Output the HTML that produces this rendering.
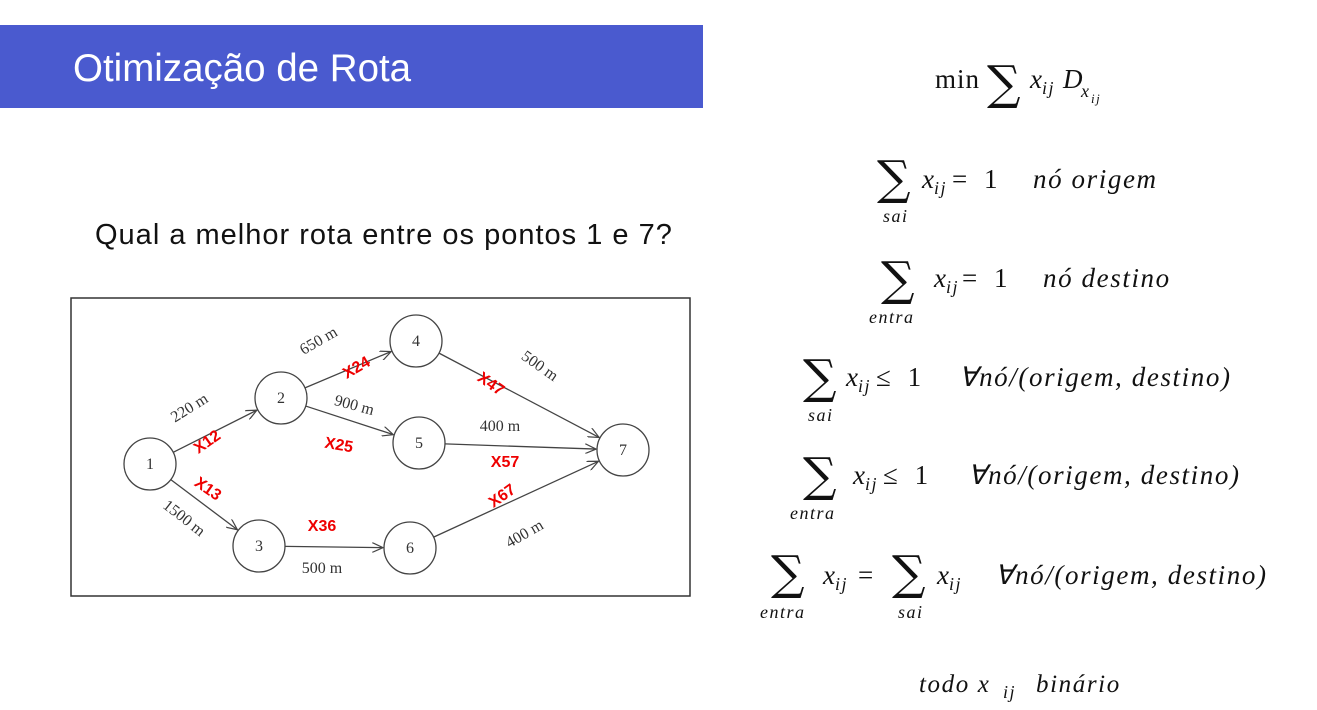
<!DOCTYPE html>
<html><head><meta charset="utf-8"><style>
body{margin:0;width:1317px;height:710px;background:#fff;overflow:hidden}
svg{display:block}
.m{font-family:"Liberation Serif",serif;font-style:italic;font-size:27px;letter-spacing:1.6px;fill:#111}
.s{font-family:"Liberation Serif",serif;font-style:italic;font-size:18px;letter-spacing:1.5px;fill:#111}
.u{font-family:"Liberation Serif",serif;font-size:27px;letter-spacing:5px;fill:#111}
.sig{font-family:"DejaVu Serif",serif;font-size:47px;fill:#111}
.g{font-family:"Liberation Serif",serif;font-size:16px;fill:#333}
.r{font-family:"Liberation Sans",sans-serif;font-weight:bold;font-size:16px;fill:#e00}
</style></head><body>
<svg width="1317" height="710">
<defs><marker id="ar" markerWidth="12" markerHeight="10" refX="11" refY="5" orient="auto" markerUnits="userSpaceOnUse"><path d="M0,0 L11,5 L0,10" fill="none" stroke="#444" stroke-width="1.2"/></marker></defs>
<rect x="0" y="25" width="703" height="83" fill="#4a5acf"/>
<text x="73" y="81" font-family="Liberation Sans,sans-serif" font-size="38.5" fill="#fff">Otimização de Rota</text>
<text x="95" y="244" font-family="Liberation Sans,sans-serif" font-size="29" letter-spacing="1" fill="#111">Qual a melhor rota entre os pontos 1 e 7?</text>
<rect x="71" y="298" width="619" height="298" fill="#fff" stroke="#333" stroke-width="1.5"/>
<g id="graph"></g>

<g>
<text x="935" y="88" class="u" style="letter-spacing:1px">min</text><text x="987" y="99" class="sig">∑</text>
<text x="1030" y="88" class="m">x</text><text x="1042" y="94" class="s">ij</text>
<text x="1063" y="88" class="m">D</text><text x="1081" y="97" class="s">x</text><text x="1091" y="103" class="s" style="font-size:13px">ij</text>
</g>
<g>
<text x="877" y="194" class="sig">∑</text><text x="883" y="222" class="s">sai</text>
<text x="922" y="188" class="m">x</text><text x="934" y="194" class="s">ij</text>
<text x="952" y="188" class="u">= 1</text><text x="1033" y="188" class="m">nó origem</text>
</g>
<g>
<text x="881" y="295" class="sig">∑</text><text x="869" y="323" class="s">entra</text>
<text x="934" y="287" class="m">x</text><text x="946" y="293" class="s">ij</text>
<text x="962" y="287" class="u">= 1</text><text x="1043" y="287" class="m">nó destino</text>
</g>
<g>
<text x="803" y="393" class="sig">∑</text><text x="808" y="421" class="s">sai</text>
<text x="846" y="386" class="m">x</text><text x="858" y="392" class="s">ij</text>
<text x="876" y="386" class="u">≤ 1</text><text x="959" y="386" class="m">∀nó/(origem, destino)</text>
</g>
<g>
<text x="803" y="491" class="sig">∑</text><text x="790" y="519" class="s">entra</text>
<text x="853" y="484" class="m">x</text><text x="865" y="490" class="s">ij</text>
<text x="883" y="484" class="u">≤ 1</text><text x="968" y="484" class="m">∀nó/(origem, destino)</text>
</g>
<g>
<text x="771" y="589" class="sig">∑</text><text x="760" y="618" class="s">entra</text>
<text x="823" y="584" class="m">x</text><text x="835" y="590" class="s">ij</text>
<text x="858" y="584" class="u">=</text>
<text x="892" y="589" class="sig">∑</text><text x="898" y="618" class="s">sai</text>
<text x="937" y="584" class="m">x</text><text x="949" y="590" class="s">ij</text>
<text x="995" y="584" class="m">∀nó/(origem, destino)</text>
</g>
<g>
<text x="919" y="692" class="m" style="font-size:25px">todo  x</text><text x="1003" y="698" class="s">ij</text><text x="1036" y="692" class="m" style="font-size:25px">binário</text>
</g>
</svg>
<script>
const nodeIds=['1','2','3','4','5','6','7'];
const nodeX=[150,281,259,416,419,410,623];
const nodeY=[464,398,546,341,443,548,450];
const edgeFrom=[0,0,1,1,2,3,4,5];
const edgeTo=[1,2,3,4,5,6,6,6];
const edgeDist=['220 m','1500 m','650 m','900 m','500 m','500 m','400 m','400 m'];
const edgeVar=['X12','X13','X24','X25','X36','X47','X57','X67'];
const distPos=[[192,412,-32],[181,522,38],[321,345,-30],[353,410,15],[322,573,0],[537,370,35],[500,431,0],[527,538,-30]];
const varPos=[[210,446,-35],[205,493,35],[359,372,-30],[338,450,10],[322,531,0],[488,388,35],[505,467,0],[505,500,-35]];
const R=26;
const g=document.getElementById('graph');
const NS='http://www.w3.org/2000/svg';
for(let i=0;i<edgeFrom.length;i++){
 const a=edgeFrom[i],b=edgeTo[i];
 const dx=nodeX[b]-nodeX[a],dy=nodeY[b]-nodeY[a],L=Math.hypot(dx,dy);
 const l=document.createElementNS(NS,'line');
 l.setAttribute('x1',nodeX[a]+dx/L*R);l.setAttribute('y1',nodeY[a]+dy/L*R);
 l.setAttribute('x2',nodeX[b]-dx/L*(R+1));l.setAttribute('y2',nodeY[b]-dy/L*(R+1));
 l.setAttribute('stroke','#444');l.setAttribute('stroke-width','1.3');l.setAttribute('marker-end','url(#ar)');
 
 
 g.appendChild(l);
 const t=document.createElementNS(NS,'text');
 const p=distPos[i];
 t.setAttribute('x',p[0]);t.setAttribute('y',p[1]);t.setAttribute('class','g');t.setAttribute('text-anchor','middle');
 t.setAttribute('transform','rotate('+p[2]+' '+p[0]+' '+p[1]+')');t.textContent=edgeDist[i];
 
 
 g.appendChild(t);
 const v=document.createElementNS(NS,'text');
 const q=varPos[i];
 v.setAttribute('x',q[0]);v.setAttribute('y',q[1]);v.setAttribute('class','r');v.setAttribute('text-anchor','middle');
 v.setAttribute('transform','rotate('+q[2]+' '+q[0]+' '+q[1]+')');v.textContent=edgeVar[i];
 
 
 g.appendChild(v);
}
for(let i=0;i<nodeIds.length;i++){
 const c=document.createElementNS(NS,'circle');
 c.setAttribute('cx',nodeX[i]);c.setAttribute('cy',nodeY[i]);c.setAttribute('r',R);
 c.setAttribute('fill','#fff');c.setAttribute('stroke','#444');c.setAttribute('stroke-width','1.3');
 
 
 g.appendChild(c);
 const t=document.createElementNS(NS,'text');
 t.setAttribute('x',nodeX[i]);t.setAttribute('y',nodeY[i]+5);t.setAttribute('class','g');t.setAttribute('text-anchor','middle');
 t.textContent=nodeIds[i];
 
 
 g.appendChild(t);
}
</script>
</body></html>
